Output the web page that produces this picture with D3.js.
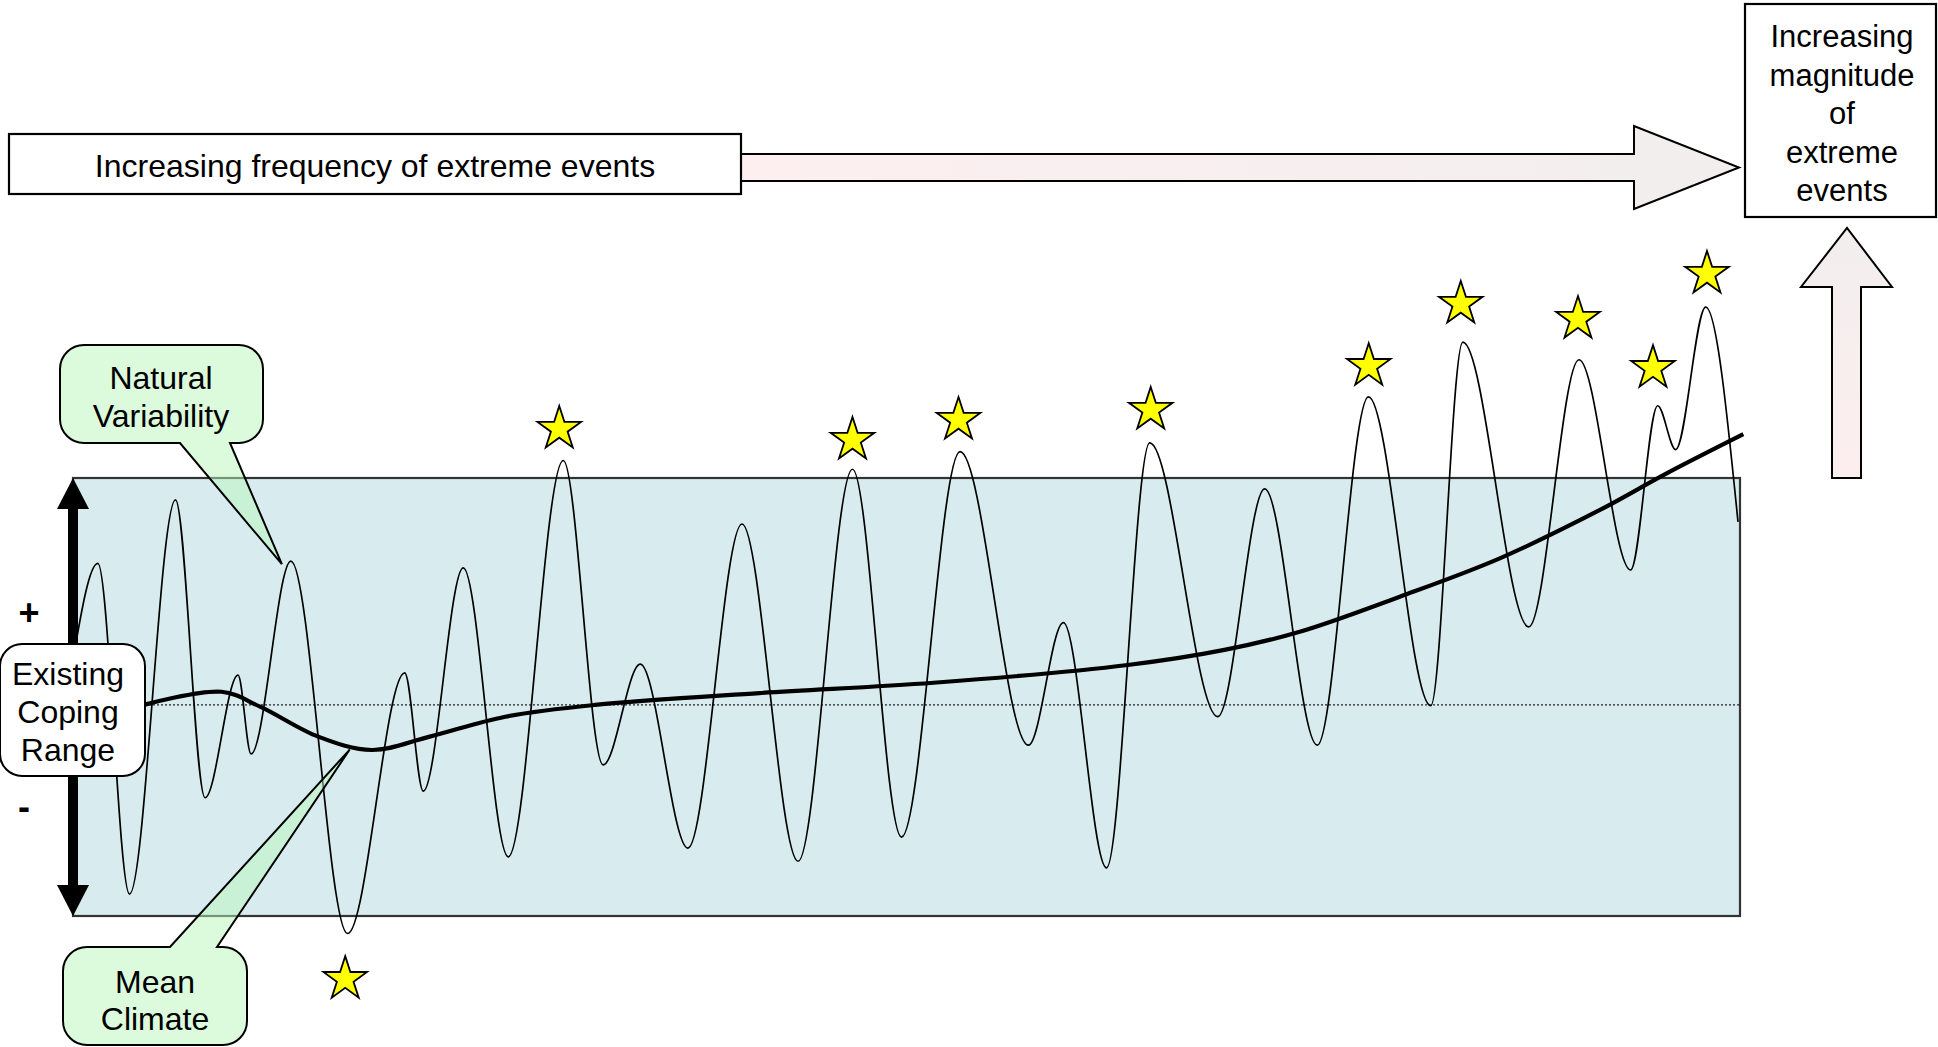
<!DOCTYPE html>
<html><head><meta charset="utf-8">
<script src="https://cdn.jsdelivr.net/npm/d3@7"></script>
<style>
html,body{margin:0;padding:0;background:#fff;overflow:hidden}
svg{display:block}
text{font-family:"Liberation Sans",Arial,sans-serif;fill:#000}
</style>
</head><body>
<svg id="chart" width="1938" height="1047"></svg>
<script>
// ---- data (time 0..100 across the coping-range box, value: coping range = -100..100) ----
const waveTime  = [0, 1.49, 3.39, 6.15, 7.92, 9.90, 10.68, 13.07, 16.47, 19.90, 21.01, 23.41, 26.11, 29.41, 31.80, 34.03, 36.89, 40.13, 43.50, 46.76, 49.70, 53.21, 57.32, 59.41, 62.00, 64.59, 68.67, 71.49, 74.64, 77.71, 81.45, 83.37, 87.33, 90.34, 93.44, 95.06, 96.14, 97.94, 99.88];
const waveValue = [17, 61, -90, 90, -46, 10, -26, 62, -108, 11, -43, 59, -73, 108, -31, 15, -69, 79, -75, 104, -64, 112, -22, 34, -78, 116, -9, 95, -22, 137, -4, 162, 32, 154, 58, 133, 113, 178, 80];
const meanTime  = [4.25, 8.9, 11.22, 14.71, 17.92, 21.40, 25.93, 31.32, 41.18, 51.62, 63.27, 69.07, 73.59, 79.59, 85.59, 91.60, 95.60, 100.2];
const meanValue = [-3.6, 2.4, -4.4, -18.1, -24.2, -18.1, -9.0, -3.6, 1.8, 6.5, 14.6, 21.5, 29.8, 45.8, 63.3, 85.4, 102.1, 120];
const starTime  = [16.33, 29.17, 46.76, 53.12, 64.65, 77.73, 83.25, 90.28, 94.78, 98.02];
const starValue = [-128.8, 122.4, 117.4, 126.5, 131.1, 151.1, 179.5, 172.6, 150.2, 193.2];
const baselineValue = -3.6;
const copingRange = [-100, 100];
const frequencyLabel = "Increasing frequency of extreme events";
const magnitudeLines = ["Increasing", "magnitude", "of", "extreme", "events"];
const copingLines = ["Existing", "Coping", "Range"];
const naturalLines = ["Natural", "Variability"];
const meanLines = ["Mean", "Climate"];

// ---- scales ----
const svg = d3.select("#chart");
const x = d3.scaleLinear().domain([0, 100]).range([73, 1740]);
const y = d3.scaleLinear().domain(copingRange).range([916, 478]);
const FONT = 32;

const defs = svg.append("defs");
const gH = defs.append("linearGradient").attr("id","gh").attr("x1","0").attr("x2","1").attr("y1","0").attr("y2","0");
gH.append("stop").attr("offset","0").attr("stop-color","#fdeff0");
gH.append("stop").attr("offset","1").attr("stop-color","#f2eeee");
const gV = defs.append("linearGradient").attr("id","gv").attr("x1","0").attr("x2","0").attr("y1","1").attr("y2","0");
gV.append("stop").attr("offset","0").attr("stop-color","#fdeeee");
gV.append("stop").attr("offset","1").attr("stop-color","#f2eeee");

// ---- coping range box ----
svg.append("rect")
  .attr("x", x(0)).attr("y", y(copingRange[1]))
  .attr("width", x(100) - x(0)).attr("height", y(copingRange[0]) - y(copingRange[1]))
  .attr("fill", "#d8ecf0").attr("stroke", "#333").attr("stroke-width", 2.2);

// baseline dotted
svg.append("line")
  .attr("x1", x(0)).attr("x2", x(100))
  .attr("y1", y(baselineValue)).attr("y2", y(baselineValue))
  .attr("stroke", "#222").attr("stroke-width", 1.4).attr("stroke-dasharray", "2,2");

// natural variability wave
const wavePts = waveTime.map((t, i) => [t, waveValue[i]]);
svg.append("path")
  .attr("d", d3.line().x(d => x(d[0])).y(d => y(d[1])).curve(d3.curveMonotoneX)(wavePts))
  .attr("fill", "none").attr("stroke", "#000").attr("stroke-width", 1.7);

// mean climate
const meanPts = meanTime.map((t, i) => [t, meanValue[i]]);
svg.append("path")
  .attr("d", d3.line().x(d => x(d[0])).y(d => y(d[1])).curve(d3.curveCatmullRom.alpha(0.5))(meanPts))
  .attr("fill", "none").attr("stroke", "#000").attr("stroke-width", 4.2);

// ---- callouts ----
function callout(x0, y0, x1, y1, r, side, b1, b2, tip) {
  const p = d3.path();
  p.moveTo(x0 + r, y0);
  if (side === "top") { p.lineTo(b1, y0); p.lineTo(tip[0], tip[1]); p.lineTo(b2, y0); }
  p.lineTo(x1 - r, y0);
  p.arcTo(x1, y0, x1, y0 + r, r);
  p.lineTo(x1, y1 - r);
  p.arcTo(x1, y1, x1 - r, y1, r);
  if (side === "bottom") { p.lineTo(b2, y1); p.lineTo(tip[0], tip[1]); p.lineTo(b1, y1); }
  p.lineTo(x0 + r, y1);
  p.arcTo(x0, y1, x0, y1 - r, r);
  p.lineTo(x0, y0 + r);
  p.arcTo(x0, y0, x0 + r, y0, r);
  p.closePath();
  return p.toString();
}
// Natural Variability -> points at a wave peak
const nvTip = [x(waveTime[7]) - 9, y(waveValue[7]) + 3];
svg.append("path")
  .attr("d", callout(60, 345, 263, 443, 24, "bottom", 180, 230, nvTip))
  .attr("fill", "rgba(185,245,185,0.5)").attr("stroke", "#000").attr("stroke-width", 2);
// Mean Climate -> points at mean line minimum
const mcTip = [x(16.6), y(-24)];
svg.append("path")
  .attr("d", callout(63, 947, 247, 1045, 24, "top", 170, 217, mcTip))
  .attr("fill", "rgba(185,245,185,0.5)").attr("stroke", "#000").attr("stroke-width", 2);

svg.append("text").attr("x", 161).attr("y", 378).attr("text-anchor","middle").attr("dominant-baseline","central")
  .attr("font-size", FONT).selectAll("tspan").data(naturalLines).join("tspan")
  .attr("x", 161).attr("dy", (d, i) => i ? 38 : 0).text(d => d);
svg.append("text").attr("x", 155).attr("y", 982).attr("text-anchor","middle").attr("dominant-baseline","central")
  .attr("font-size", FONT).selectAll("tspan").data(meanLines).join("tspan")
  .attr("x", 155).attr("dy", (d, i) => i ? 37 : 0).text(d => d);

// ---- double arrow for coping range ----
const ax = x(0);
svg.append("rect").attr("x", ax - 5).attr("y", y(100) + 28).attr("width", 10)
  .attr("height", y(-100) - y(100) - 56).attr("fill", "#000");
svg.append("path").attr("d", d3.line()([[ax, y(100)], [ax - 16, y(100) + 31], [ax + 16, y(100) + 31]]) + "Z").attr("fill", "#000");
svg.append("path").attr("d", d3.line()([[ax, y(-100)], [ax - 16, y(-100) - 31], [ax + 16, y(-100) - 31]]) + "Z").attr("fill", "#000");

svg.append("text").attr("x", 29).attr("y", 612).attr("text-anchor","middle").attr("dominant-baseline","central")
  .attr("font-size", 36).attr("font-weight", "bold").text("+");
svg.append("text").attr("x", 24).attr("y", 806).attr("text-anchor","middle").attr("dominant-baseline","central")
  .attr("font-size", 36).attr("font-weight", "bold").text("-");

// existing coping range label
svg.append("rect").attr("x", 0).attr("y", 644).attr("width", 145).attr("height", 132).attr("rx", 22)
  .attr("fill", "#fff").attr("stroke", "#000").attr("stroke-width", 2);
svg.append("text").attr("y", 674).attr("text-anchor","middle").attr("dominant-baseline","central")
  .attr("font-size", FONT).selectAll("tspan").data(copingLines).join("tspan")
  .attr("x", 68).attr("dy", (d, i) => i ? 38 : 0).text(d => d);

// ---- stars ----
svg.selectAll("path.star").data(starTime.map((t, i) => [t, starValue[i]])).join("path")
  .attr("class", "star")
  .attr("transform", d => `translate(${x(d[0])},${y(d[1])})`)
  .attr("d", d3.symbol().type(d3.symbolStar).size(590))
  .attr("fill", "#ffff00").attr("stroke", "#000").attr("stroke-width", 1.8).attr("stroke-linejoin", "miter");

// ---- frequency box & arrow ----
svg.append("path")
  .attr("d", d3.line()([[741, 154], [1634, 154], [1634, 126], [1739, 167.5], [1634, 209], [1634, 181], [741, 181]]) + "Z")
  .attr("fill", "url(#gh)").attr("stroke", "#000").attr("stroke-width", 2);
svg.append("rect").attr("x", 9).attr("y", 134).attr("width", 732).attr("height", 60)
  .attr("fill", "#fff").attr("stroke", "#000").attr("stroke-width", 2.2);
svg.append("text").attr("x", 375).attr("y", 166).attr("text-anchor","middle").attr("dominant-baseline","central")
  .attr("font-size", FONT).text(frequencyLabel);

// ---- magnitude box & arrow ----
svg.append("rect").attr("x", 1745).attr("y", 4).attr("width", 191).attr("height", 213)
  .attr("fill", "#fff").attr("stroke", "#000").attr("stroke-width", 2.2);
svg.append("text").attr("y", 36).attr("text-anchor","middle").attr("dominant-baseline","central")
  .attr("font-size", 31).selectAll("tspan").data(magnitudeLines).join("tspan")
  .attr("x", 1842).attr("dy", (d, i) => i ? 38.5 : 0).text(d => d);
svg.append("path")
  .attr("d", d3.line()([[1832, 478], [1832, 287], [1801, 287], [1847, 228], [1892, 287], [1861, 287], [1861, 478]]) + "Z")
  .attr("fill", "url(#gv)").attr("stroke", "#000").attr("stroke-width", 2);
</script>
</body></html>
